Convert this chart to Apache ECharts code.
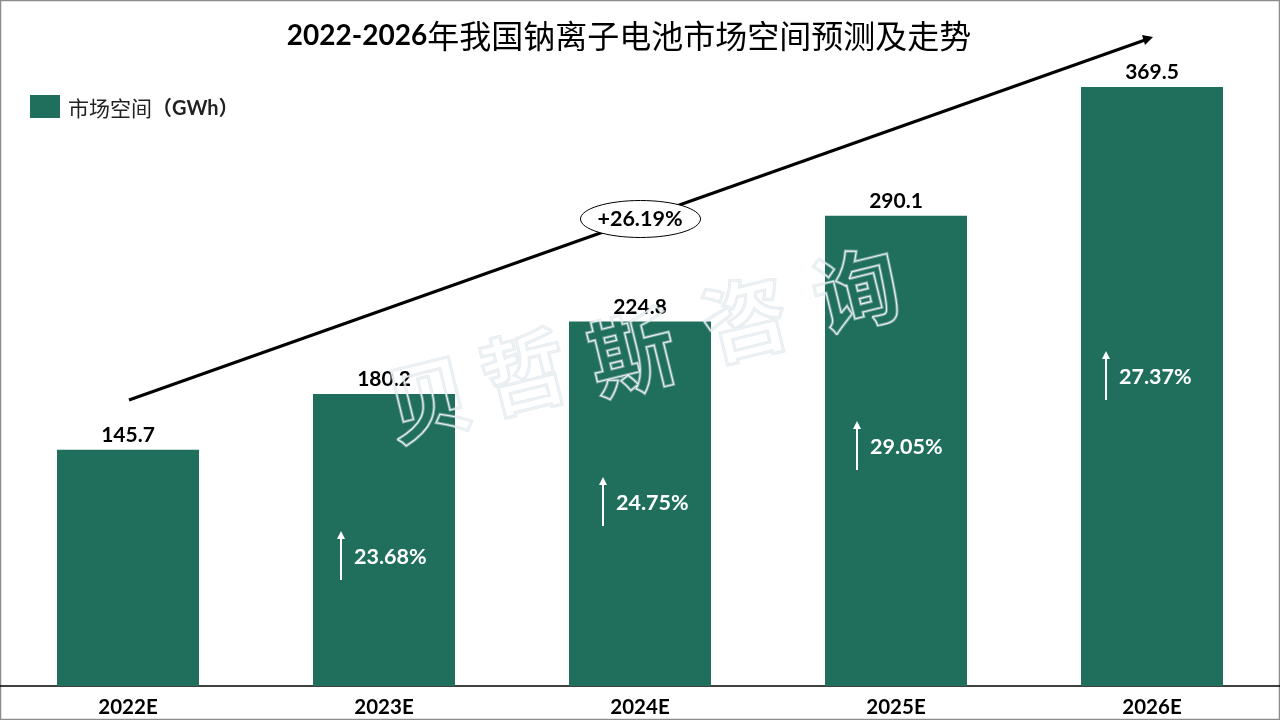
<!DOCTYPE html>
<html>
<head>
<meta charset="utf-8">
<style>
html, body { margin: 0; padding: 0; background: #fff; }
#container_1 { width: 1280px; height: 720px; }
</style>
<script src="https://cdn.jsdelivr.net/npm/echarts@6/dist/echarts.min.js"></script>
</head>
<body>
<div id="container_1"></div>
<script>
var categories = ['2022E', '2023E', '2024E', '2025E', '2026E'];
var marketSize = [145.7, 180.2, 224.8, 290.1, 369.5];
var growthLabels = ['23.68%', '24.75%', '29.05%', '27.37%'];
var cagrLabel = '+26.19%';
var watermarkChars = ['贝', '哲', '斯', '咨', '询'];

var latin = 'Lato, "Noto Sans CJK SC", sans-serif';
var cjk = '"Noto Sans CJK SC", sans-serif';
var green = '#1F6F5C';

// annotation positions on the page
var growthPos = [[341, 557], [603, 503], [857, 447], [1106, 377]];
var watermarkPos = [[428, 399], [524, 372], [632, 353], [745, 319], [856, 290]];

var myChart = echarts.init(document.getElementById('container_1'));

var graphics = [];

// frame
graphics.push({
    type: 'rect',
    shape: { x: 0.5, y: 0.5, width: 1279, height: 719 },
    style: { fill: 'none', stroke: '#8c8c8c', lineWidth: 1.5 },
    silent: true
});

// big trend arrow
graphics.push({
    type: 'line',
    shape: { x1: 129, y1: 400, x2: 1145, y2: 40 },
    style: { stroke: '#000', lineWidth: 3 },
    z: 20
});
graphics.push({
    type: 'polygon',
    shape: { points: [[1153, 37], [1142, 35], [1145, 45]] },
    style: { fill: '#000' },
    z: 20
});
graphics.push({
    type: 'ellipse',
    shape: { cx: 640.5, cy: 219, rx: 60, ry: 18.5 },
    style: { fill: '#fff', stroke: '#000', lineWidth: 1 },
    z: 21
});
graphics.push({
    type: 'text',
    x: 640, y: 219,
    style: { text: cagrLabel, font: 'bold 21.5px ' + latin, fill: '#000', align: 'center', verticalAlign: 'middle' },
    z: 22
});

// growth arrows inside bars
growthLabels.forEach(function (txt, i) {
    var x = growthPos[i][0], y = growthPos[i][1];
    graphics.push({
        type: 'line',
        shape: { x1: x, y1: y - 20, x2: x, y2: y + 23 },
        style: { stroke: '#fff', lineWidth: 2 },
        z: 20
    });
    graphics.push({
        type: 'polygon',
        shape: { points: [[x, y - 26], [x - 4, y - 18], [x + 4, y - 18]] },
        style: { fill: '#fff' },
        z: 20
    });
    graphics.push({
        type: 'text',
        x: x + 13, y: y,
        style: { text: txt, font: 'bold 21.5px ' + latin, fill: '#fff', align: 'left', verticalAlign: 'middle' },
        z: 20
    });
});

// watermark, outline only
watermarkChars.forEach(function (c, i) {
    var common = {
        type: 'text',
        x: watermarkPos[i][0], y: watermarkPos[i][1],
        rotation: 0.24,
        silent: true
    };
    graphics.push(Object.assign({}, common, {
        z: 30,
        style: {
            text: c, font: 'bold 86px ' + cjk, align: 'center', verticalAlign: 'middle',
            fill: 'transparent', stroke: 'rgba(205,218,226,0.5)', lineWidth: 3
        }
    }));
    graphics.push(Object.assign({}, common, {
        z: 31,
        style: {
            text: c, font: 'bold 86px ' + cjk, align: 'center', verticalAlign: 'middle',
            fill: 'transparent', stroke: '#eef3f5', lineWidth: 1
        }
    }));
});

var option = {
    animation: false,
    backgroundColor: '#fff',
    title: {
        text: '{a|2022-2026}{b|年我国钠离子电池市场空间预测及走势}',
        left: 624,
        top: 15,
        textAlign: 'center',
        textStyle: {
            rich: {
                a: { color: '#000', fontSize: 28, fontWeight: 'bold', fontFamily: latin },
                b: { color: '#000', fontSize: 32, fontWeight: 'normal', fontFamily: cjk }
            }
        }
    },
    legend: {
        left: 25,
        top: 90,
        itemWidth: 30,
        itemHeight: 23,
        itemGap: 8,
        icon: 'rect',
        formatter: function () {
            return '{a|市场空间}{b|（GWh）}';
        },
        textStyle: {
            rich: {
                a: { color: '#222', fontSize: 21, fontFamily: cjk, padding: [4, 0, 0, 3] },
                b: { color: '#222', fontSize: 20, fontWeight: 'bold', fontFamily: latin, padding: [4, 0, 0, 0] }
            }
        }
    },
    grid: { left: 0, right: 0, top: 37.6, bottom: 34 },
    xAxis: {
        type: 'category',
        data: categories,
        axisTick: { show: false },
        axisLine: { lineStyle: { color: '#000', width: 1.5 } },
        axisLabel: { color: '#000', fontSize: 20.5, fontWeight: 'bold', fontFamily: latin, margin: 11 }
    },
    yAxis: { type: 'value', min: 0, max: 400, show: false },
    series: [{
        name: '市场空间（GWh）',
        type: 'bar',
        data: marketSize,
        barWidth: 142,
        itemStyle: { color: green },
        label: { show: true, position: 'top', distance: 4, color: '#000', fontSize: 21, fontWeight: 'bold', fontFamily: latin }
    }],
    graphic: graphics
};
myChart.setOption(option);
</script>
</body>
</html>
